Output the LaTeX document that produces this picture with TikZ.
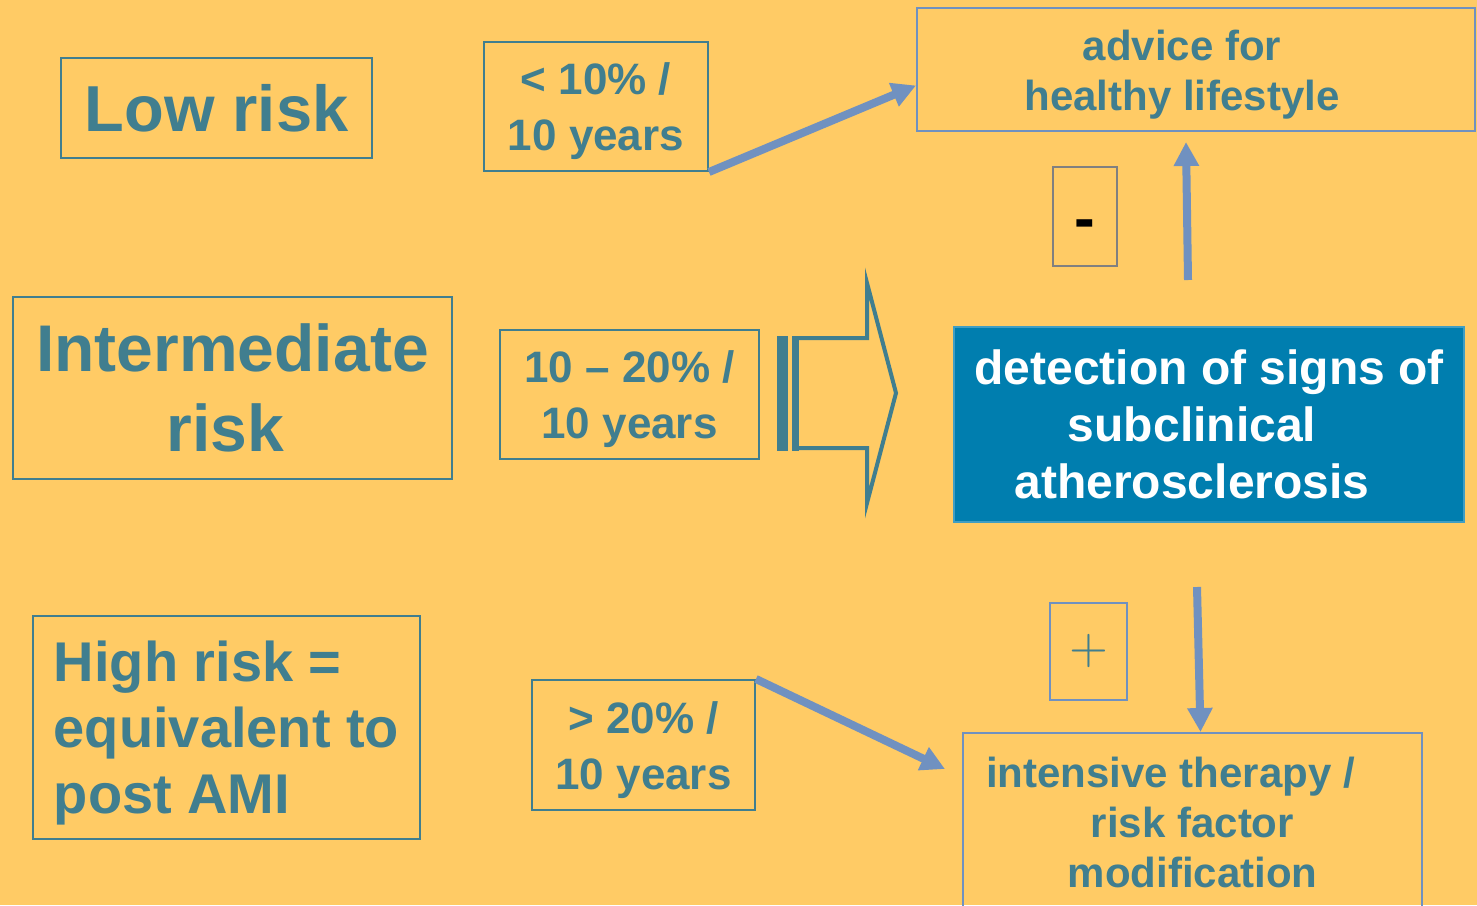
\documentclass[tikz,border=0pt]{standalone}
\usepackage{fontspec}
\setmainfont{Liberation Sans}
\newfontfamily\plusfont{lmroman10-regular.otf}
\usetikzlibrary{arrows.meta}

\definecolor{sand}{HTML}{FFCB65}
\definecolor{riskteal}{HTML}{407E8F}
\definecolor{flowblue}{HTML}{7091C0}
\definecolor{signblue}{HTML}{007EAF}

% strut that pushes the first line of a box down
\newcommand{\topstrut}[1]{\rule{0pt}{#1}}
% trailing space that keeps a line off centre
\newcommand{\tailpad}[1]{\hspace*{#1}\mbox{}}

\begin{document}
\begin{tikzpicture}[
    x=1pt, y=-1pt,
    box/.style={draw=riskteal, line width=2pt, text=riskteal, inner sep=0pt,
                align=center},
    level/.style={box, font=\fontsize{66}{80}\selectfont\bfseries},
    rate/.style={box, font=\fontsize{44}{56}\selectfont\bfseries},
    outcome/.style={box, draw=flowblue, font=\fontsize{42}{50}\selectfont\bfseries},
    sign/.style={box, draw=flowblue, minimum width=64pt, minimum height=99pt},
    flow/.style={flowblue, line width=8pt, -{Triangle[length=24pt,width=24pt]}},
]
\clip (0,0) rectangle (1477,905);
\fill[sand] (0,0) rectangle (1477,905);

% Risk levels
\node[level, minimum width=311pt, minimum height=100pt,
      font=\fontsize{65}{80}\selectfont\bfseries] (low) at (216.5,108) {Low risk};
\node[level, minimum width=439pt, minimum height=182pt] (mid) at (232.5,388)
     {Intermediate\\risk\tailpad{14pt}};
\node[level, minimum width=387pt, minimum height=223pt, align=left,
      font=\fontsize{56}{66}\selectfont\bfseries] (high) at (226.5,727.5)
     {\topstrut{51pt}High risk =\\equivalent to\\post AMI};

% 10-year rates
\node[rate, minimum width=224pt, minimum height=129pt] (lowrate) at (596,106.5)
     {\topstrut{42pt}< 10\% /\\10 years};
\node[rate, minimum width=259pt, minimum height=129pt] (midrate) at (629.5,394.5)
     {\topstrut{42pt}10 -- 20\% /\\10 years};
\node[rate, minimum width=223pt, minimum height=130pt] (highrate) at (643.5,745)
     {\topstrut{42pt}> 20\% /\\10 years};

% Outcomes
\node[outcome, minimum width=558pt, minimum height=123pt] (advice) at (1196,69.5)
     {\topstrut{40pt}advice for\tailpad{28pt}\\healthy lifestyle\tailpad{28pt}};
\node[box, draw=signblue!75!white, fill=signblue, text=white,
      font=\fontsize{48}{57}\selectfont\bfseries,
      minimum width=510pt, minimum height=195pt] (detect) at (1209,424.5)
     {detection of signs of\\subclinical\tailpad{34pt}\\atherosclerosis\tailpad{34pt}};
\node[outcome, minimum width=459pt, minimum height=178pt] (therapy) at (1192.5,822)
     {intensive therapy /\tailpad{44pt}\\risk factor\\modification};

% Finding signs or not
\node[sign, draw=gray, text=black, text height=45pt, text depth=0pt,
      font=\fontsize{62}{62}\selectfont\bfseries] (minus) at (1085,216.5) {-};
\node[sign, minimum width=77pt, minimum height=97pt,
      font=\fontsize{50}{50}\plusfont] (plus) at (1088.5,651) {+};

% Striped arrow into the detection step
\fill[riskteal] (777,336) rectangle (788,451);
\fill[riskteal] (792,336) rectangle (799,451);
\draw[riskteal, line width=4pt, line join=miter]
     (799,338) -- (867,338) -- (867,283) -- (896,393) -- (867,503)
     -- (867,448) -- (799,448);

% Arrows
\draw[flow] (lowrate.south east) -- ([yshift=-16pt]advice.west);
\draw[flow] (highrate.north east) -- ([xshift=-17pt,yshift=-37pt]therapy.north west);
\draw[flow] ([xshift=-21pt,yshift=46pt]detect.north) -- ([xshift=-10pt,yshift=-10pt]advice.south);
\draw[flow] ([xshift=-12pt,yshift=-64pt]detect.south) -- ([xshift=8pt]therapy.north);

\end{tikzpicture}
\end{document}
